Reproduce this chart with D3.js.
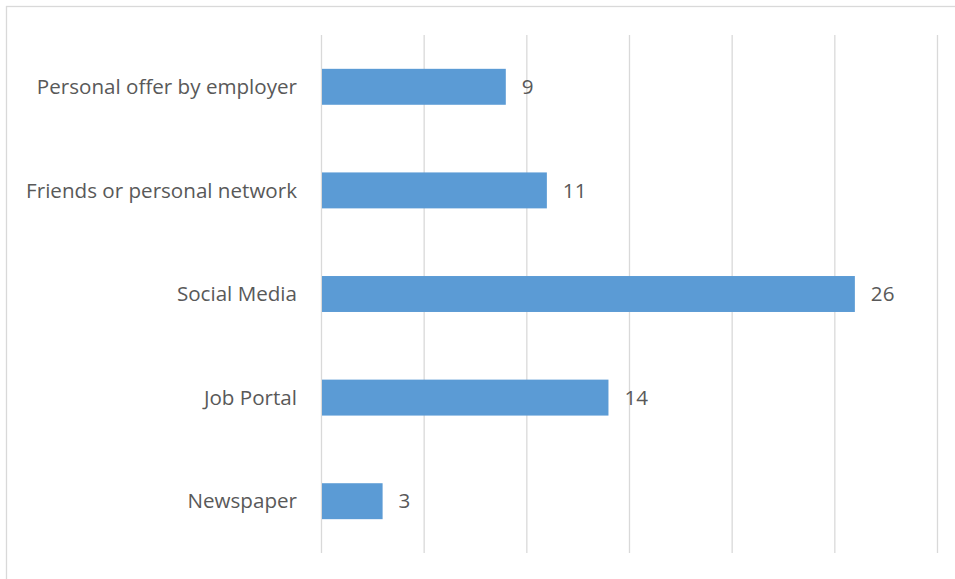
<!DOCTYPE html>
<html>
<head>
<meta charset="utf-8">
<script src="https://cdn.jsdelivr.net/npm/d3@7"></script>
<style>
  html, body { margin: 0; padding: 0; background: #fff; }
  svg { display: block; }
</style>
</head>
<body>
<svg id="chart" width="955" height="579"></svg>
<script>
// Channels through which respondents found their job
const categories = [
  "Personal offer by employer",
  "Friends or personal network",
  "Social Media",
  "Job Portal",
  "Newspaper"
];
const values = [9, 11, 26, 14, 3];
const xTicks = [0, 5, 10, 15, 20, 25, 30];

const svg = d3.select("#chart");
const W = 955, H = 579;
const margin = { top: 35, right: 18, bottom: 26, left: 321 };
const plotW = 937 - margin.left;
const plotH = 553 - margin.top;

const font = "'Open Sans', sans-serif";
const fontSize = "20.6px";
const textColor = "#595959";
const gridColor = "#d9d9d9";
const barColor = "#5b9bd5";

// chart area frame (only top and left edges fall inside the view)
svg.append("rect")
  .attr("x", 6.5).attr("y", 6.5)
  .attr("width", W + 10).attr("height", H + 10)
  .attr("fill", "none")
  .attr("stroke", gridColor)
  .attr("stroke-width", 1.3);

const g = svg.append("g").attr("transform", `translate(${margin.left},${margin.top})`);

const x = d3.scaleLinear().domain([0, 30]).range([0, plotW]);
const y = d3.scaleBand().domain(categories).range([0, plotH]).paddingInner(0.653).paddingOuter(0.3265);

// vertical gridlines
const xAxis = d3.axisBottom(x).tickValues(xTicks).tickSize(plotH).tickFormat("");
const gx = g.append("g").call(xAxis);
gx.select(".domain").remove();
gx.selectAll(".tick line").attr("stroke", gridColor).attr("stroke-width", 1.3);

// bars
g.selectAll("rect.bar")
  .data(values)
  .join("rect")
  .attr("class", "bar")
  .attr("x", x(0) + 1)
  .attr("y", (d, i) => y(categories[i]))
  .attr("width", d => x(d) - x(0) - 1)
  .attr("height", y.bandwidth())
  .attr("fill", barColor);

// category labels
const yAxis = d3.axisLeft(y).tickSize(0).tickPadding(24);
const gy = g.append("g").call(yAxis);
gy.select(".domain").remove();
gy.selectAll(".tick text")
  .attr("fill", textColor)
  .attr("font-family", font)
  .attr("font-size", fontSize)
  .attr("dy", "0.35em");

// value labels
g.selectAll("text.val")
  .data(values)
  .join("text")
  .attr("class", "val")
  .attr("x", d => x(d) + 16)
  .attr("y", (d, i) => y(categories[i]) + y.bandwidth() / 2)
  .attr("dy", "0.35em")
  .attr("fill", textColor)
  .attr("font-family", font)
  .attr("font-size", fontSize)
  .text(d => d);
</script>
</body>
</html>
